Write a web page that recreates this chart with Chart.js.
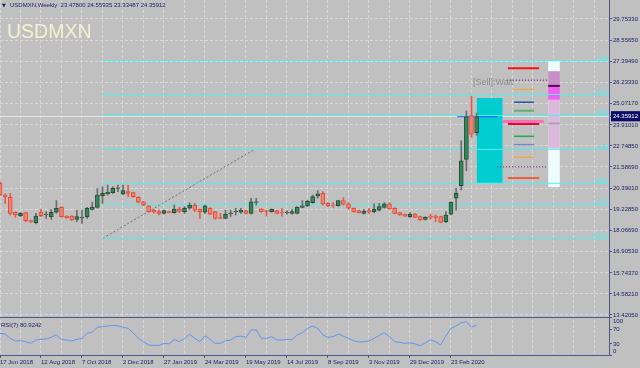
<!DOCTYPE html>
<html>
<head>
<meta charset="utf-8">
<script src="https://cdn.jsdelivr.net/npm/chart.js@4.4.1/dist/chart.umd.min.js"></script>
<style>
html,body{margin:0;padding:0;background:#c0c0c0;overflow:hidden}
canvas{display:block}
</style>
</head>
<body>
<canvas id="c" width="640" height="368"></canvas>
<script>
// ---------------- DATA ----------------
const symbolName = 'USDMXN';
const headerText = 'USDMXN,Weekly  23.47800 24.55935 23.33487 24.35912';
const rsiLabelText = 'RSI(7) 80.9242';
const signalText = '[Sell]:Wait';

// weekly x-axis labels, one every 8 weeks starting at week 0 (17 Jun 2018)
const dateLabels = ['17 Jun 2018','12 Aug 2018','7 Oct 2018','2 Dec 2018','27 Jan 2019','24 Mar 2019',
  '19 May 2019','14 Jul 2019','8 Sep 2019','3 Nov 2019','29 Dec 2019','23 Feb 2020'];

const openP  = [20.69,20.04,19.91,19.09,18.90,19.07,18.63,18.51,19.09,18.96,18.85,19.09,19.36,18.88,18.88,18.70,18.78,18.85,19.25,19.36,
                20.00,20.10,20.17,20.40,20.10,20.23,20.17,19.91,19.67,19.44,19.21,19.12,19.03,19.12,19.07,19.27,19.12,19.31,19.49,19.25,
                19.09,19.31,19.12,18.79,18.75,19.01,19.11,19.09,19.18,19.03,19.63,19.27,19.18,19.12,19.18,19.09,19.06,19.03,19.03,19.36,
                19.44,19.62,19.99,20.13,19.58,19.50,19.45,19.73,19.55,19.31,19.18,19.03,19.18,19.12,19.21,19.36,19.55,19.31,19.07,18.98,
                18.85,18.99,18.85,18.70,18.88,18.88,18.85,18.57,18.98,19.86,20.55,22.01,24.42,23.478];
const highP  = [20.78,20.10,20.13,19.12,19.07,19.09,18.66,19.03,19.25,19.12,19.25,19.73,19.40,18.90,18.90,19.21,19.21,19.36,19.64,20.41,
                20.50,20.59,20.50,20.59,20.59,20.59,20.20,19.95,19.70,19.46,19.25,19.21,19.21,19.14,19.49,19.36,19.40,19.62,19.58,19.27,
                19.49,19.33,19.14,19.03,19.21,19.21,19.31,19.31,19.21,19.86,19.86,19.29,19.20,19.27,19.20,19.31,19.18,19.25,19.40,19.73,
                19.75,20.04,20.28,20.23,19.62,19.62,19.75,19.89,19.62,19.33,19.20,19.25,19.31,19.55,19.58,19.62,19.62,19.33,19.09,18.99,
                19.07,19.01,18.88,18.85,18.98,18.94,18.87,19.12,19.67,20.41,23.04,24.68,25.50,24.559];
const lowP   = [20.00,19.58,18.94,18.81,18.85,18.57,18.51,18.44,18.85,18.75,18.70,19.03,18.81,18.75,18.63,18.57,18.48,18.75,19.21,19.31,
                19.58,20.04,20.13,20.23,20.04,19.95,19.91,19.60,19.45,19.09,19.05,18.94,19.00,19.05,19.03,19.07,19.03,19.25,19.12,18.75,
                19.03,18.96,18.72,18.73,18.73,18.85,18.94,19.03,19.00,18.99,19.49,19.09,18.88,19.09,19.00,18.88,18.98,18.98,19.00,19.33,
                19.40,19.58,19.86,19.49,19.40,19.36,19.42,19.49,19.25,19.09,19.05,18.99,19.03,19.07,19.16,19.31,19.25,19.00,18.92,18.86,
                18.81,18.79,18.63,18.66,18.70,18.57,18.51,18.51,18.94,19.21,20.32,21.38,23.23,23.335];
const closeP = [20.04,19.95,19.03,18.94,19.03,18.63,18.57,18.88,18.90,18.99,19.09,19.31,18.85,18.79,18.66,18.85,18.81,19.31,19.36,20.04,
                20.13,20.19,20.41,20.43,20.28,20.13,19.95,19.64,19.49,19.12,19.09,19.03,19.18,19.07,19.27,19.14,19.31,19.49,19.21,19.12,
                19.44,18.99,18.75,18.75,18.98,19.05,19.14,19.21,19.03,19.67,19.66,19.12,19.14,19.25,19.03,19.06,19.09,19.12,19.36,19.44,
                19.71,19.95,20.10,19.55,19.45,19.47,19.73,19.53,19.31,19.12,19.07,19.16,19.09,19.25,19.40,19.55,19.27,19.03,18.94,18.88,
                18.98,18.81,18.66,18.81,18.81,18.81,18.53,18.94,19.64,20.13,21.92,24.36,23.40,24.359];
const rsi7   = [58.6,56.8,45,37.8,38.7,36,31.5,40.5,42.3,43.2,
                47.7,55,42,40.5,37.8,42,45,58.6,62,74.8,
                76.6,78.4,80,79,74.8,72,60,45,36,27,
                26,26,31.5,30,42,36,45,56,45,36,
                52,42,31.5,31.5,38.7,40.5,49.5,51,47.7,67.6,
                67.6,45,45,49.5,40.5,40.5,42,42,54,60,
                72,78.4,72,54,47.7,49.5,56.8,51,45,38.7,
                35,36,37.8,45,53,60,49.5,36,34,31.5,
                33,30,25,33,40.5,36,27,51,72,78.4,
                87,90,75,80.9];

const priceTicks      = [13.4205,14.5821,15.7437,16.9053,18.0669,19.2285,20.3901,21.5869,22.7485,23.9101,25.0717,26.2333,27.3949,28.5565,29.7533];
const priceTickLabels = ['13.42050','14.58210','15.74370','16.90530','18.06690','19.22850','20.39010','21.58690','22.74850','23.91010','25.07170','26.23330','27.39490','28.55650','29.75330'];
const lastPrice = 24.35912;
const lastPriceLabel = '24.35912';
const rsiTicks = [0, 30, 70, 100];

// Fibonacci object
const fibPrices = [27.46, 25.59, 24.43, 22.56, 20.69, 19.53, 17.66];
const fibLabels = ['100', '61.8', '38.2', '0.0', '38.2', '61.8', '100.0'];
const fibStartWeek = 20.1;
const fibAnchorWeeks  = [20.1, 49.7];
const fibAnchorPrices = [17.66, 22.56];

// indicator objects on the right
const zoneWeeks  = [93.1, 98.0];
const zonePrices = [20.72, 25.38];
const lastLineWeeks = [89.2, 97.1];
const sigPrices = [27.03, 26.37, 25.87, 25.16, 24.69, 24.09, 23.98, 23.28, 22.82, 22.12, 21.60, 20.98];
const sigStart  = [99.1, 98.9, 100.3, 100.3, 100.3, 98.1, 99.1, 100.3, 100.3, 100.3, 97.0, 99.1];
const sigEnd    = [105.2, 106.9, 104.2, 104.2, 104.2, 106.1, 105.2, 104.2, 104.2, 104.2, 106.9, 105.2];
const signalTextWeek = 92.3, signalTextPrice = 26.22;
const meterWeek = 108.1;
const meterRanges = [[20.50, 27.44], [22.62, 26.85], [26.07, 26.85], [25.32, 26.03], [26.02, 26.10], [23.96, 24.02]];

// ---------------- STYLE ----------------
const FONT = "'Liberation Sans',Arial,sans-serif";
const FS = 6;
const NAVY = '#1c1c68';
const AXIS = '#54548c';
const GRID = '#d8d8d8';
const FIB  = '#4cf0f0';
const X_MAX = 118.83;
const Y_MIN = 13.31, Y_MAX = 30.80;
const RSI_MAX = 102.7;

const sigStyles = [
  {c:'#ff1010', w:2},
  {c:'#8a3a8a', w:1.5, d:[1,2]},
  {c:'#ffa020', w:1},
  {c:'#1e5aaa', w:1.5},
  {c:'#5fae72', w:2},
  {c:'#ff6eb4', w:3},
  {c:'#d0102e', w:3},
  {c:'#18b050', w:1.5},
  {c:'#6e8cc8', w:1.5},
  {c:'#ffa020', w:1},
  {c:'#8a3a8a', w:1.5, d:[1,2]},
  {c:'#ff3c14', w:1.5}
];
const meterColors = ['#eefcfc', '#dcbadc', '#c890c8', '#f060f0', '#5a105a', '#a8a0a8'];

const weeks = openP.map((_, i) => i);
const isBull = i => closeP[i] >= openP[i];

// ---------------- DATASETS ----------------
const datasets = [];
meterRanges.forEach((r, i) => datasets.push({
  type: 'bar', data: [{x: meterWeek, y: r}], backgroundColor: meterColors[i],
  barThickness: 11, grouped: false, order: 40 - i, yAxisID: 'y'
}));
datasets.push({
  type: 'bar', data: [{x: (zoneWeeks[0] + zoneWeeks[1]) / 2, y: zonePrices}], backgroundColor: '#00cdd0',
  barThickness: 25, grouped: false, order: 30, yAxisID: 'y'
});
fibPrices.forEach(p => datasets.push({
  type: 'line', data: [{x: fibStartWeek, y: p}, {x: X_MAX, y: p}], borderColor: FIB, borderWidth: 1,
  pointRadius: 0, fill: false, order: 12, yAxisID: 'y'
}));
datasets.push({
  type: 'line', data: fibAnchorWeeks.map((w, i) => ({x: w, y: fibAnchorPrices[i]})), borderColor: '#707070',
  borderWidth: 1, borderDash: [2, 2], pointRadius: 0, fill: false, order: 12, yAxisID: 'y'
});
sigPrices.forEach((p, i) => datasets.push({
  type: 'line', data: [{x: sigStart[i], y: p}, {x: sigEnd[i], y: p}], borderColor: sigStyles[i].c,
  borderWidth: sigStyles[i].w, borderDash: sigStyles[i].d || [], pointRadius: 0, fill: false, order: 11, yAxisID: 'y'
}));
datasets.push({
  type: 'line', data: lastLineWeeks.map(w => ({x: w, y: lastPrice})), borderColor: '#3050ff',
  borderWidth: 1, pointRadius: 0, fill: false, order: 10, yAxisID: 'y'
});
datasets.push({
  type: 'bar', data: weeks.map(i => ({x: i, y: [lowP[i], highP[i]]})),
  backgroundColor: weeks.map(i => isBull(i) ? '#6c6c6c' : '#e85a48'),
  barThickness: 1, grouped: false, order: 6, yAxisID: 'y'
});
datasets.push({
  type: 'bar', data: weeks.map(i => ({x: i, y: [openP[i], closeP[i]]})),
  backgroundColor: weeks.map(i => isBull(i) ? '#2e8b57' : '#f4826e'),
  borderColor: weeks.map(i => isBull(i) ? '#2c4a3a' : '#e44a38'),
  borderWidth: 1, borderSkipped: false, barThickness: 4, grouped: false, order: 5, yAxisID: 'y'
});
datasets.push({
  type: 'line', data: weeks.map(i => ({x: i, y: rsi7[i]})), borderColor: '#5a98f0', borderWidth: 1,
  pointRadius: 0, fill: false, tension: 0, order: 1, yAxisID: 'yr'
});

// ---------------- HELPERS ----------------
const gridWeeks = [];
for (let w = 0; w <= X_MAX; w += 4) gridWeeks.push(w);
const dateAt = v => (v % 8 === 0 && v / 8 < dateLabels.length) ? dateLabels[v / 8] : '';
const yTickVals = [Y_MIN].concat(priceTicks, [lastPrice]).sort((a, b) => a - b);
const isLast = ctx => ctx && ctx.tick && Math.abs(ctx.tick.value - lastPrice) < 1e-6;
const isSep  = ctx => ctx && ctx.tick && Math.abs(ctx.tick.value - Y_MIN) < 1e-6;
const zeroPad = s => { s.paddingTop = 0; s.paddingBottom = 0; s.paddingLeft = 0; s.paddingRight = 0; };

const overlay = {
  id: 'overlay',
  beforeDraw(chart) {
    const c = chart.ctx;
    c.save(); c.fillStyle = '#c0c0c0'; c.fillRect(0, 0, chart.width, chart.height); c.restore();
  },
  afterDraw(chart) {
    const c = chart.ctx, ys = chart.scales.y, xs = chart.scales.x, ca = chart.chartArea;
    c.save();
    c.font = FS + 'px ' + FONT; c.fillStyle = FIB; c.textAlign = 'right'; c.textBaseline = 'bottom';
    fibPrices.forEach((p, i) => c.fillText(fibLabels[i], ca.right - 1, Math.round(ys.getPixelForValue(p))));
    c.font = "9px 'Liberation Sans',sans-serif"; c.fillStyle = '#8c8c8c'; c.textAlign = 'left'; c.textBaseline = 'middle';
    c.fillText(signalText, xs.getPixelForValue(signalTextWeek), ys.getPixelForValue(signalTextPrice));
    c.font = "19.5px 'Liberation Sans',sans-serif"; c.fillStyle = '#f2f2cc'; c.textBaseline = 'alphabetic';
    c.fillText(symbolName, 7, 37.5);
    c.font = FS + 'px ' + FONT; c.fillStyle = NAVY; c.textBaseline = 'middle';
    c.fillText(headerText, 10, 5.5);
    c.font = "5px 'DejaVu Sans',sans-serif";
    c.fillText('\u25BC', 2, 5.5);
    c.font = FS + 'px ' + FONT; c.fillStyle = NAVY;
    c.fillText(rsiLabelText, 1, chart.scales.yr.top + 8);
    c.restore();
  }
};

new Chart(document.getElementById('c'), {
  type: 'bar',
  data: {datasets},
  plugins: [overlay],
  options: {
    responsive: false, animation: false, devicePixelRatio: 1,
    layout: {padding: 0},
    plugins: {legend: {display: false}, tooltip: {enabled: false}, title: {display: false}},
    scales: {
      x: {
        type: 'linear', position: 'bottom', min: 0, max: X_MAX, offset: false,
        afterBuildTicks: s => { s.ticks = gridWeeks.map(v => ({value: v})); },
        afterFit: s => { s.height = 13; zeroPad(s); },
        grid: {color: GRID, lineWidth: 1, drawTicks: true, tickLength: 3, offset: false,
               tickColor: ctx => (ctx.tick && dateAt(ctx.tick.value)) ? AXIS : 'rgba(0,0,0,0)'},
        border: {display: true, color: AXIS, width: 1, dash: [3, 2]},
        ticks: {autoSkip: false, maxRotation: 0, minRotation: 0, align: 'start', padding: 1,
                color: NAVY, font: {family: FONT, size: FS}, callback: v => dateAt(v)}
      },
      y: {
        type: 'linear', position: 'right', stack: 'panes', stackWeight: 317, min: Y_MIN, max: Y_MAX,
        afterBuildTicks: s => { s.ticks = yTickVals.map(v => ({value: v})); },
        afterFit: s => { s.width = 31; zeroPad(s); },
        grid: {drawTicks: true, tickLength: 3, tickColor: AXIS,
               color: ctx => isSep(ctx) ? AXIS : (isLast(ctx) ? '#e4e4e4' : GRID)},
        border: {display: true, color: AXIS, width: 1,
                 dash: ctx => (isSep(ctx) || isLast(ctx) || !ctx.tick) ? [] : [3, 2]},
        ticks: {autoSkip: false, padding: 1, font: {family: FONT, size: FS},
                color: ctx => isLast(ctx) ? '#ffffff' : NAVY,
                showLabelBackdrop: ctx => isLast(ctx),
                backdropColor: '#0c0c66',
                backdropPadding: {top: 2, bottom: 1, left: 2, right: 6},
                callback: v => {
                  if (Math.abs(v - lastPrice) < 1e-6) return lastPriceLabel;
                  const i = priceTicks.findIndex(p => Math.abs(p - v) < 1e-6);
                  return i >= 0 ? priceTickLabels[i] : '';
                }}
      },
      yr: {
        type: 'linear', position: 'right', stack: 'panes', stackWeight: 38, min: 0, max: RSI_MAX,
        afterBuildTicks: s => { s.ticks = rsiTicks.map(v => ({value: v})); },
        afterFit: s => { s.width = 31; zeroPad(s); },
        grid: {drawOnChartArea: false, drawTicks: true, tickLength: 3, tickColor: AXIS},
        border: {display: true, color: AXIS, width: 1},
        ticks: {autoSkip: false, padding: 1, color: NAVY, font: {family: FONT, size: FS},
                callback: v => v === 100 ? ['', '100'] : (v === 0 ? ['0', ''] : String(v))}
      }
    }
  }
});
</script>
</body>
</html>
